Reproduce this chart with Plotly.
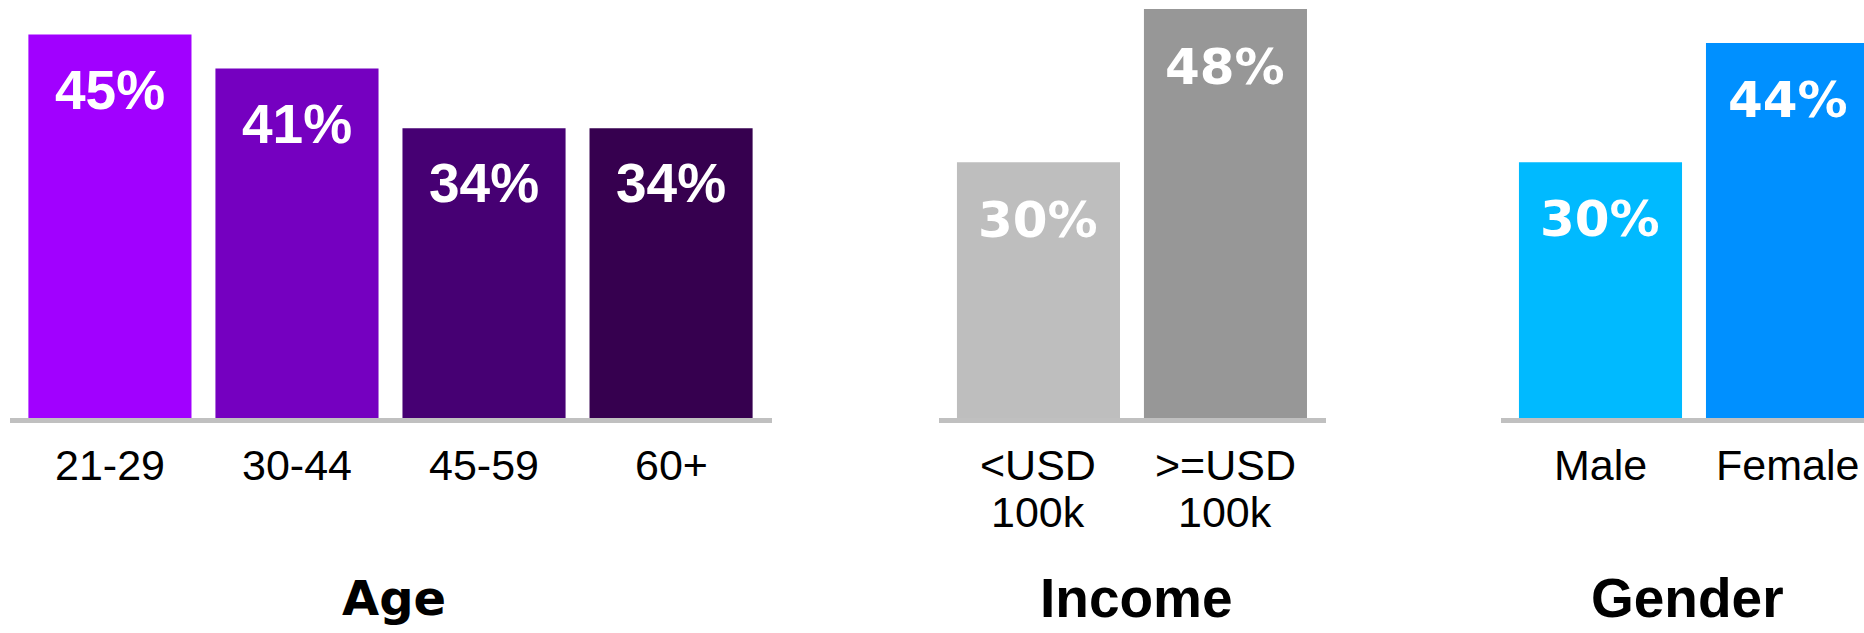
import plotly.graph_objects as go

# ---------------- data ----------------
age_categories = ["21-29", "30-44", "45-59", "60+"]
age_values = [45, 41, 34, 34]
age_colors = ["#A100FF", "#7500C0", "#460073", "#36004F"]

income_categories = ["<USD 100k", ">=USD 100k"]
income_tick_lines = [["&lt;USD", "100k"], ["&gt;=USD", "100k"]]
income_values = [30, 48]
income_colors = ["#BEBEBE", "#979797"]

gender_categories = ["Male", "Female"]
gender_values = [30, 44]
gender_colors = ["#00BAFF", "#0090FF"]

panel_titles = ["Age", "Income", "Gender"]

# ---------------- layout helpers ----------------
W, H = 1864, 633


def py(px):
    """paper y from a pixel row measured from the top"""
    return 1 - px / H


panels = [
    dict(cats=age_categories, vals=age_values, colors=age_colors,
         ticks=[[c] for c in age_categories],
         domain=[9.5 / W, 771.5 / W], rng=[-0.537, 3.537],
         val_font=dict(family="Liberation Sans", size=55, color="white"), val_shift=-22,
         title_font=dict(family="DejaVu Sans", size=48, color="black"), title_shift=3, title_y=628),
    dict(cats=income_categories, vals=income_values, colors=income_colors,
         ticks=income_tick_lines,
         domain=[939 / W, 1325.5 / W], rng=[-0.532, 1.535],
         val_font=dict(family="DejaVu Sans", size=50, color="white"), val_shift=-27,
         title_font=dict(family="Liberation Sans", size=55, color="black"), title_shift=5, title_y=631),
    dict(cats=gender_categories, vals=gender_values, colors=gender_colors,
         ticks=[[c] for c in gender_categories],
         domain=[1501 / W, 1.0], rng=[-0.532, 1.409],
         val_font=dict(family="DejaVu Sans", size=50, color="white"), val_shift=-26,
         title_font=dict(family="Liberation Sans", size=55, color="black"), title_shift=-7, title_y=631),
]

fig = go.Figure()
annotations = []
layout_axes = {}
Y_MAX = 49.05

for i, p in enumerate(panels, start=1):
    xa = "x" if i == 1 else f"x{i}"
    ya = "y" if i == 1 else f"y{i}"
    fig.add_trace(go.Bar(
        x=p["cats"], y=p["vals"], marker=dict(color=p["colors"], line=dict(width=0)),
        xaxis=xa, yaxis=ya, showlegend=False, hoverinfo="x+y",
    ))
    layout_axes[f"xaxis{'' if i == 1 else i}"] = dict(
        domain=p["domain"], range=p["rng"], anchor=ya, type="category",
        showline=True, linecolor="#C0C0C0", linewidth=5,
        showgrid=False, zeroline=False, ticks="", showticklabels=False, fixedrange=True,
    )
    layout_axes[f"yaxis{'' if i == 1 else i}"] = dict(
        domain=[py(418), 1], range=[0, Y_MAX], anchor=xa, visible=False, fixedrange=True,
    )
    # value labels inside bars
    for c, v in zip(p["cats"], p["vals"]):
        annotations.append(dict(
            x=c, y=v, xref=xa, yref=ya, text=f"<b>{v}%</b>", showarrow=False,
            xanchor="center", yanchor="top", yshift=p["val_shift"], font=p["val_font"],
        ))
    # category labels
    for c, lines in zip(p["cats"], p["ticks"]):
        for k, line in enumerate(lines):
            annotations.append(dict(
                x=c, y=py(439 + 47 * k), xref=xa, yref="paper", text=line,
                showarrow=False, xanchor="center", yanchor="top",
                font=dict(family="Liberation Sans", size=43, color="black"),
            ))
    # panel title
    annotations.append(dict(
        x=(len(p["cats"]) - 1) / 2, y=py(p["title_y"]), xref=xa, yref="paper",
        text=f"<b>{panel_titles[i - 1]}</b>", showarrow=False,
        xanchor="center", yanchor="bottom", xshift=p["title_shift"], font=p["title_font"],
    ))

fig.update_layout(
    width=W, height=H,
    margin=dict(l=0, r=0, t=0, b=0),
    paper_bgcolor="white", plot_bgcolor="white",
    bargap=0.128,
    annotations=annotations,
    **layout_axes,
)

fig.write_html("out.html", config={"displayModeBar": False})
